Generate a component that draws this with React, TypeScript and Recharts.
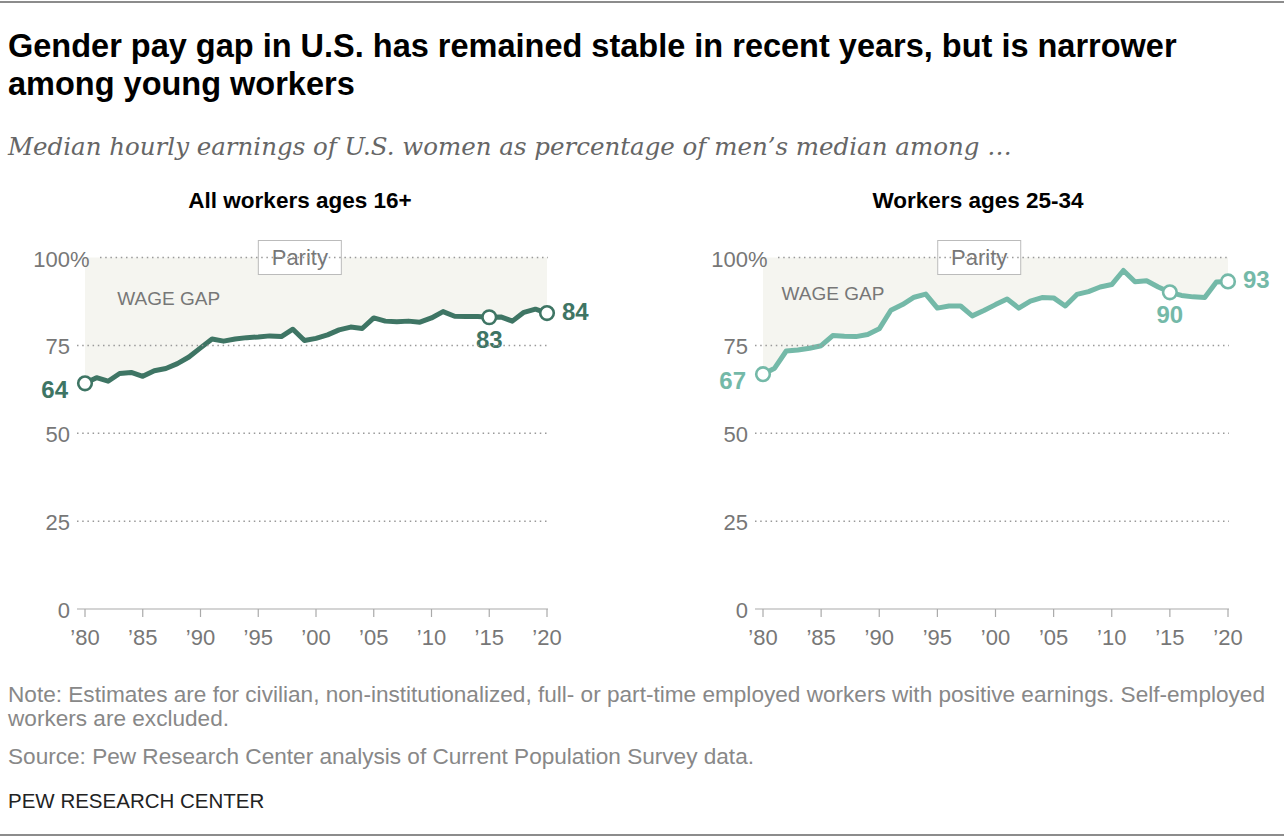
import { ComposedChart, Line, Area, XAxis, YAxis, ReferenceDot } from "recharts";

const years = [
  1980, 1981, 1982, 1983, 1984, 1985, 1986, 1987, 1988, 1989,
  1990, 1991, 1992, 1993, 1994, 1995, 1996, 1997, 1998, 1999,
  2000, 2001, 2002, 2003, 2004, 2005, 2006, 2007, 2008, 2009,
  2010, 2011, 2012, 2013, 2014, 2015, 2016, 2017, 2018, 2019, 2020,
];

// All workers ages 16+
const allWorkers = [
  64.2, 65.8, 64.8, 67.0, 67.3, 66.2, 67.8, 68.4, 69.8, 71.7,
  74.3, 76.8, 76.2, 76.8, 77.2, 77.4, 77.7, 77.5, 79.6, 76.4,
  77.0, 78.0, 79.4, 80.2, 79.8, 82.8, 81.9, 81.7, 81.9, 81.6,
  82.8, 84.6, 83.3, 83.2, 83.2, 83.0, 83.1, 81.9, 84.4, 85.3, 84.2,
];

// Workers ages 25-34
const youngWorkers = [
  66.8, 68.5, 73.4, 73.7, 74.2, 74.9, 77.8, 77.6, 77.5, 78.1,
  79.7, 85.0, 86.6, 88.7, 89.6, 85.6, 86.2, 86.2, 83.4, 84.9,
  86.6, 88.2, 85.6, 87.6, 88.6, 88.5, 86.2, 89.5, 90.3, 91.6,
  92.3, 96.3, 93.1, 93.4, 91.6, 90.1, 89.2, 88.8, 88.6, 93.0, 93.2,
];

const yTicks = [0, 25, 50, 75, 100];
const xTicks = [1980, 1985, 1990, 1995, 2000, 2005, 2010, 2015, 2020];
const calloutYears = [1980, 2015, 2020];

const SANS = "'Liberation Sans', Arial, sans-serif";
const GRAY = "#777";
const SHADE = "#f5f5f0";

type Place = "left" | "right" | "below";

function YTick(props: any) {
  const { y, payload, gridEnd } = props;
  const v = payload.value;
  const textEnd = 70;
  const top = v === 100;
  return (
    <g>
      <text x={textEnd} y={y} dy={9} textAnchor="end" fontSize={22} fill={GRAY} fontFamily={SANS}>
        {v}
      </text>
      {top && (
        <text x={textEnd} y={y} dy={9} textAnchor="start" fontSize={22} fill={GRAY} fontFamily={SANS}>
          %
        </text>
      )}
      {v === 0 ? (
        <line x1={77} x2={gridEnd} y1={y} y2={y} stroke="#aaa" strokeWidth={1.2} />
      ) : (
        <line
          x1={top ? 100 : 77}
          x2={gridEnd}
          y1={y}
          y2={y}
          stroke="#999"
          strokeWidth={1.5}
          strokeDasharray="1.5 3.7"
        />
      )}
    </g>
  );
}

function ParityBox(props: any) {
  const { cx, cy } = props;
  return (
    <g>
      <rect x={cx - 41.5} y={cy - 17} width={83} height={34} fill="#fff" stroke="#bbb" strokeWidth={1} />
      <text x={cx} y={cy} dy={7.5} textAnchor="middle" fontSize={22} fill={GRAY} fontFamily={SANS}>
        Parity
      </text>
    </g>
  );
}

function WageGapLabel(props: any) {
  const { cx, cy } = props;
  return (
    <text x={cx} y={cy} dy={7} textAnchor="start" fontSize={19} fill={GRAY} fontFamily={SANS}>
      WAGE GAP
    </text>
  );
}

function Callout(props: any) {
  const { cx, cy, value, color, place } = props;
  const label = String(Math.round(value));
  let tx = cx;
  let ty = cy;
  let anchor: "start" | "end" | "middle" = "middle";
  if (place === "left") {
    tx = cx - 17;
    ty = cy + 6.5;
    anchor = "end";
  } else if (place === "right") {
    tx = cx + 15;
    ty = cy - 1.5;
    anchor = "start";
  } else {
    ty = cy + 22.5;
  }
  return (
    <g>
      {place === "below" && <rect x={tx - 20} y={ty - 11} width={40} height={22} fill="#fff" />}
      <circle cx={cx} cy={cy} r={6.8} fill="#fff" stroke={color} strokeWidth={2.6} />
      <text x={tx} y={ty} dy={8.5} textAnchor={anchor} fontSize={24} fontWeight="bold" fill={color} fontFamily={SANS}>
        {label}
      </text>
    </g>
  );
}

function Panel({
  title,
  values,
  color,
  left,
  marginRight,
  wageGap,
  places,
}: {
  title: string;
  values: number[];
  color: string;
  left: number;
  marginRight: number;
  wageGap: { year: number; value: number };
  places: Record<number, Place>;
}) {
  const data = years.map((year, i) => ({ year, value: values[i], gap: [values[i], 100] }));
  const width = 640;
  const height = 450;
  const gridEnd = width - marginRight + 1;

  return (
    <>
      <div
        style={{
          position: "absolute",
          left: left + 50,
          top: 188,
          width: 500,
          textAlign: "center",
          fontFamily: SANS,
          fontWeight: "bold",
          fontSize: 22.5,
          lineHeight: "26px",
          color: "#000",
        }}
      >
        {title}
      </div>
      <div style={{ position: "absolute", left, top: 220, width, height }}>
        <ComposedChart
          width={width}
          height={height}
          data={data}
          margin={{ top: 37.5, right: marginRight, bottom: 21, left: 0 }}
        >
          <Area
            dataKey="gap"
            type="linear"
            fill={SHADE}
            fillOpacity={1}
            stroke="none"
            isAnimationActive={false}
          />
          <XAxis
            type="number"
            dataKey="year"
            domain={[1980, 2020]}
            ticks={xTicks}
            interval={0}
            axisLine={false}
            tickLine={{ stroke: "#aaa", strokeWidth: 1.2 }}
            tickSize={8}
            tickMargin={12}
            height={40}
            tick={{ fill: GRAY, fontSize: 22, fontFamily: SANS }}
            tickFormatter={(y: number) => "\u2019" + String(y).slice(2)}
          />
          <YAxis
            type="number"
            domain={[0, 100]}
            ticks={yTicks}
            interval={0}
            width={85}
            axisLine={false}
            tickLine={false}
            tick={(p: any) => <YTick {...p} gridEnd={gridEnd} />}
          />
          <ReferenceDot x={1998.6} y={100} r={0} shape={ParityBox} ifOverflow="visible" zIndex={700} />
          <ReferenceDot
            x={wageGap.year}
            y={wageGap.value}
            r={0}
            shape={WageGapLabel}
            ifOverflow="visible"
            zIndex={700}
          />
          <Line
            dataKey="value"
            type="linear"
            stroke={color}
            strokeWidth={5}
            strokeLinejoin="round"
            dot={false}
            activeDot={false}
            isAnimationActive={false}
            zIndex={800}
          />
          {calloutYears.map((yr) => {
            const v = values[years.indexOf(yr)];
            return (
              <ReferenceDot
                key={yr}
                x={yr}
                y={v}
                r={0}
                ifOverflow="visible"
                zIndex={900}
                shape={(p: any) => <Callout {...p} value={v} color={color} place={places[yr]} />}
              />
            );
          })}
        </ComposedChart>
      </div>
    </>
  );
}

export default function App() {
  return (
    <div style={{ position: "relative", width: 1284, height: 838, background: "#fff", overflow: "hidden" }}>
      <style>{"body{margin:0}"}</style>
      <div style={{ position: "absolute", left: 0, top: 1, width: 1284, height: 2, background: "#8c8c8c" }} />
      <div
        style={{
          position: "absolute",
          left: 8,
          top: 27,
          width: 1276,
          fontFamily: SANS,
          fontWeight: "bold",
          fontSize: 32.5,
          lineHeight: "38px",
          color: "#000",
          whiteSpace: "nowrap",
        }}
      >
        Gender pay gap in U.S. has remained stable in recent years, but is narrower
        <br />
        among young workers
      </div>
      <div
        style={{
          position: "absolute",
          left: 8,
          top: 131,
          fontFamily: "'DejaVu Serif', serif",
          fontStyle: "italic",
          fontSize: 24.5,
          lineHeight: "32px",
          color: "#666",
          whiteSpace: "nowrap",
        }}
      >
        Median hourly earnings of U.S. women as percentage of men’s median among …
      </div>

      <Panel
        title="All workers ages 16+"
        values={allWorkers}
        color="#3e7564"
        left={0}
        marginRight={93}
        wageGap={{ year: 1982.8, value: 88.5 }}
        places={{ 1980: "left", 2015: "below", 2020: "right" }}
      />
      <Panel
        title="Workers ages 25-34"
        values={youngWorkers}
        color="#74b9a8"
        left={678}
        marginRight={90}
        wageGap={{ year: 1981.6, value: 89.9 }}
        places={{ 1980: "left", 2015: "below", 2020: "right" }}
      />

      <div
        style={{
          position: "absolute",
          left: 8,
          top: 683,
          fontFamily: SANS,
          fontSize: 22.6,
          lineHeight: "24px",
          color: "#888",
          whiteSpace: "nowrap",
        }}
      >
        Note: Estimates are for civilian, non-institutionalized, full- or part-time employed workers with positive earnings. Self-employed
        <br />
        workers are excluded.
      </div>
      <div
        style={{
          position: "absolute",
          left: 8,
          top: 745,
          fontFamily: SANS,
          fontSize: 22.6,
          lineHeight: "24px",
          color: "#888",
          whiteSpace: "nowrap",
        }}
      >
        Source: Pew Research Center analysis of Current Population Survey data.
      </div>
      <div
        style={{
          position: "absolute",
          left: 8,
          top: 789,
          fontFamily: SANS,
          fontSize: 20.5,
          lineHeight: "24px",
          color: "#222",
          whiteSpace: "nowrap",
        }}
      >
        PEW RESEARCH CENTER
      </div>
      <div style={{ position: "absolute", left: 0, top: 834, width: 1284, height: 1.5, background: "#8c8c8c" }} />
    </div>
  );
}
